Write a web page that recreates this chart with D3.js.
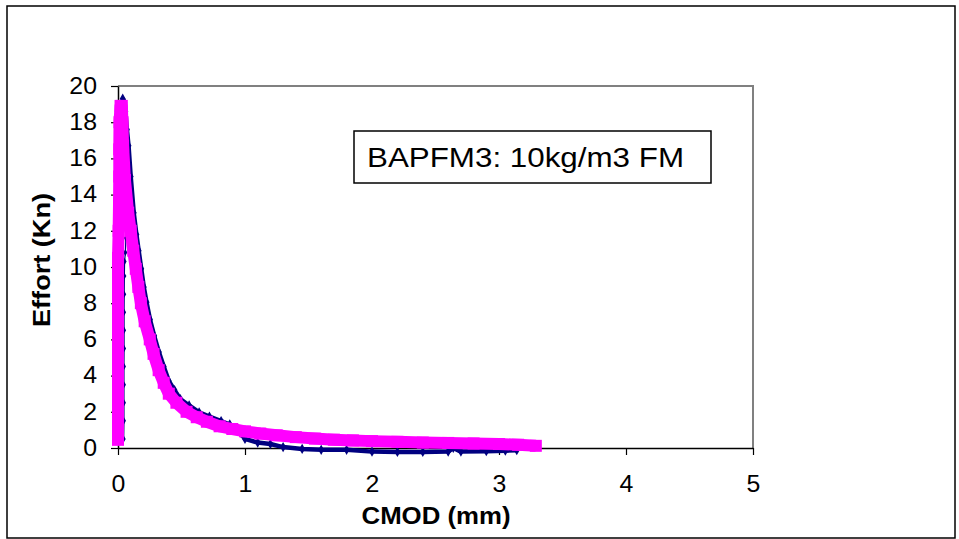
<!DOCTYPE html>
<html>
<head>
<meta charset="utf-8">
<script src="https://cdn.jsdelivr.net/npm/d3@7"></script>
<style>
  html, body { margin: 0; padding: 0; background: #fff; }
  svg { display: block; }
  text { font-family: "Liberation Sans", Arial, sans-serif; }
</style>
</head>
<body>
<svg id="chart" width="959" height="539"></svg>
<script>
// ---- data ----
const xTicks = [0, 1, 2, 3, 4, 5];
const yTicks = [0, 2, 4, 6, 8, 10, 12, 14, 16, 18, 20];
const xTitle = "CMOD (mm)";
const yTitle = "Effort (Kn)";
const annotation = "BAPFM3: 10kg/m3 FM";

// series 1 (navy diamonds): loading branch
const blueRiseX = [0.016, 0.045, 0.047, 0.047, 0.047, 0.047, 0.048, 0.048, 0.048, 0.049, 0.05, 0.052, 0.058, 0.062, 0.055, 0.05, 0.045, 0.04, 0.037];
const blueRiseY = [1.35, 0.5, 1.5, 2.5, 3.5, 4.5, 5.5, 6.5, 7.5, 8.5, 9.5, 10.3, 10.8, 11.6, 13, 15, 17, 18.5, 19.3];
// series 1: post-peak branch
const blueFallX = [0.037, 0.05, 0.058, 0.07, 0.083, 0.10, 0.124, 0.145, 0.163, 0.183, 0.203, 0.225, 0.252, 0.285, 0.322, 0.36, 0.40, 0.445, 0.491, 0.56, 0.639, 0.72, 0.812, 0.88, 0.93, 0.97, 1.0, 1.1, 1.2, 1.3, 1.45, 1.6, 1.8, 2.0, 2.2, 2.4, 2.6, 2.64, 2.7, 2.9, 3.05, 3.14];
const blueFallY = [19.3, 19.1, 18.6, 17.6, 16.7, 15.0, 13.0, 11.8, 10.9, 9.9, 8.9, 8.05, 7.1, 6.2, 5.3, 4.5, 3.7, 3.2, 2.7, 2.35, 1.97, 1.74, 1.49, 1.3, 1.1, 0.8, 0.5, 0.3, 0.22, 0.05, -0.05, -0.1, -0.1, -0.2, -0.22, -0.22, -0.2, 0.0, -0.2, -0.18, -0.15, -0.12];

// series 2 (magenta squares)
const magX = [0, 0, 0, 0, 0, 0, 0, 0, 0, 0.005, 0.008, 0.01, 0.01, 0.012, 0.02, 0.03, 0.035, 0.04, 0.055, 0.08, 0.10, 0.12, 0.14, 0.16, 0.18, 0.21, 0.25, 0.28, 0.32, 0.36, 0.40, 0.46, 0.54, 0.62, 0.7, 0.8, 0.9, 1.0, 1.12, 1.25, 1.4, 1.55, 1.7, 1.85, 2.0, 2.2, 2.4, 2.6, 2.8, 3.0, 3.15, 3.29];
const magY = [0.45, 0.95, 1.6, 3, 4.5, 6, 7.5, 9, 10.5, 12, 13.5, 15, 16.5, 18, 18.9, 18.9, 18, 16.7, 14.8, 13, 12, 10.9, 9.9, 8.9, 8.0, 7.0, 6.0, 5.2, 4.3, 3.6, 3.0, 2.5, 2.0, 1.7, 1.45, 1.2, 1.05, 0.92, 0.8, 0.7, 0.6, 0.52, 0.46, 0.42, 0.38, 0.34, 0.3, 0.28, 0.25, 0.22, 0.18, 0.12];

// ---- drawing ----
const svg = d3.select("#chart");
const navy = "#000080", magenta = "#FF00FF";

const x = d3.scaleLinear().domain([0, 5]).range([118, 753]);
const y = d3.scaleLinear().domain([0, 20]).range([448, 86]);

// outer border
svg.append("rect").attr("x", 7).attr("y", 6).attr("width", 948).attr("height", 532)
  .attr("fill", "#fff").attr("stroke", "#000").attr("stroke-width", 1.5);

// plot frame (top/right grey)
svg.append("path")
  .attr("d", `M${x(0)},${y(20)}H${x(5)}V${y(0)}`)
  .attr("fill", "none").attr("stroke", "#808080").attr("stroke-width", 2);

const stretch = function (sel, k) {
  sel.each(function () {
    const w = this.getComputedTextLength();
    d3.select(this).attr("textLength", w * k).attr("lengthAdjust", "spacingAndGlyphs");
  });
};

// axes (drawn beneath the series, as in the original)
const xAxis = svg.append("g").attr("transform", `translate(0,${y(0)})`)
  .call(d3.axisBottom(x).tickValues(xTicks).tickFormat(d3.format("d")).tickSize(7).tickPadding(21).tickSizeOuter(0));
const yAxis = svg.append("g").attr("transform", `translate(${x(0)},0)`)
  .call(d3.axisLeft(y).tickValues(yTicks).tickFormat(d3.format("d")).tickSize(7).tickPadding(14).tickSizeOuter(0));
[xAxis, yAxis].forEach(g => {
  g.select(".domain").attr("stroke", "#000").attr("stroke-width", 1.5);
  g.selectAll(".tick line").attr("stroke", "#000").attr("stroke-width", 1.2);
  g.selectAll(".tick text").attr("font-size", 23).attr("fill", "#000")
    .attr("font-family", "Liberation Sans, Arial, sans-serif");
  stretch(g.selectAll(".tick text"), 1.08);
});

const zip = (xs, ys) => xs.map((v, i) => [v, ys[i]]);
const line = d3.line().x(d => x(d[0])).y(d => y(d[1]));

const blueRise = zip(blueRiseX, blueRiseY);
const blueFall = zip(blueFallX, blueFallY);
const mag = zip(magX, magY);

const plot = svg.append("g");

// series 1
plot.append("path").attr("d", line(blueRise)).attr("fill", "none")
  .attr("stroke", navy).attr("stroke-width", 1.2);
plot.selectAll(".bd1").data(blueRise).enter().append("path")
  .attr("d", d3.symbol(d3.symbolDiamond, 14)())
  .attr("transform", d => `translate(${x(d[0])},${y(d[1])})`)
  .attr("fill", navy);
plot.append("path").attr("d", line(blueFall)).attr("fill", "none")
  .attr("stroke", navy).attr("stroke-width", 4.5).attr("stroke-linejoin", "round");
plot.selectAll(".bd2").data(blueFall).enter().append("path")
  .attr("d", d3.symbol(d3.symbolDiamond, 30)())
  .attr("transform", d => `translate(${x(d[0])},${y(d[1])})`)
  .attr("fill", navy);

// series 2
plot.append("path").attr("d", line(mag.slice(2))).attr("fill", "none")
  .attr("stroke", magenta).attr("stroke-width", 12).attr("stroke-linejoin", "round");
const sq = 12;
plot.selectAll(".ms").data(mag).enter().append("rect")
  .attr("x", d => x(d[0]) - sq / 2).attr("y", d => y(d[1]) - sq / 2)
  .attr("width", sq).attr("height", sq).attr("fill", magenta);

// axis titles
const xt = svg.append("text").attr("x", 436).attr("y", 524).attr("text-anchor", "middle")
  .attr("font-size", 24).attr("font-weight", "bold").text(xTitle);
stretch(xt, 149 / xt.node().getComputedTextLength());
const ytTitle = svg.append("text").attr("transform", "translate(50,260) rotate(-90)")
  .attr("text-anchor", "middle").attr("font-size", 24).attr("font-weight", "bold").text(yTitle);
stretch(ytTitle, 134 / ytTitle.node().getComputedTextLength());

// annotation box
svg.append("rect").attr("x", 354).attr("y", 131).attr("width", 357).attr("height", 52)
  .attr("fill", "#fff").attr("stroke", "#000").attr("stroke-width", 1.5);
const ann = svg.append("text").attr("x", 367).attr("y", 167).attr("font-size", 28).text(annotation);
stretch(ann, 317 / ann.node().getComputedTextLength());
</script>
</body>
</html>
